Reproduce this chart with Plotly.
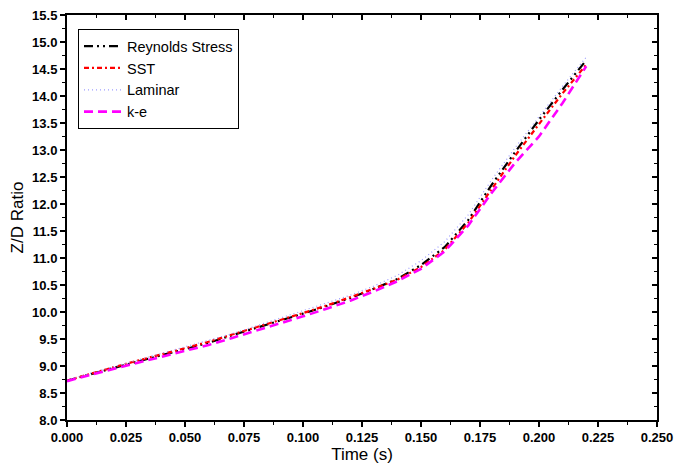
import plotly.graph_objects as go

time_s = [0.0, 0.01, 0.02, 0.03, 0.04, 0.05, 0.06, 0.07, 0.08, 0.09, 0.10,
          0.11, 0.12, 0.13, 0.14, 0.15, 0.16, 0.17, 0.18, 0.19, 0.20, 0.21, 0.22]

reynolds_stress = [8.73, 8.85, 8.97, 9.09, 9.20, 9.31, 9.43, 9.57, 9.70, 9.84, 9.97,
                   10.11, 10.26, 10.43, 10.61, 10.87, 11.20, 11.70, 12.36, 12.97, 13.56, 14.12, 14.66]
sst = [8.73, 8.86, 8.98, 9.10, 9.21, 9.33, 9.45, 9.58, 9.71, 9.85, 9.98,
       10.12, 10.27, 10.43, 10.60, 10.83, 11.15, 11.65, 12.28, 12.90, 13.48, 14.05, 14.58]
laminar = [8.74, 8.87, 8.99, 9.11, 9.23, 9.35, 9.47, 9.60, 9.74, 9.88, 10.02,
           10.16, 10.31, 10.48, 10.68, 10.95, 11.30, 11.80, 12.45, 13.05, 13.62, 14.18, 14.72]
k_e = [8.72, 8.84, 8.95, 9.06, 9.17, 9.28, 9.39, 9.52, 9.65, 9.79, 9.92,
       10.06, 10.21, 10.38, 10.57, 10.80, 11.12, 11.60, 12.21, 12.77, 13.25, 13.87, 14.55]

series_names = ["Reynolds Stress", "SST", "Laminar", "k-e"]

x_ticks = [0.0, 0.025, 0.05, 0.075, 0.1, 0.125, 0.15, 0.175, 0.2, 0.225, 0.25]
x_tick_labels = ["0.000", "0.025", "0.050", "0.075", "0.100", "0.125",
                 "0.150", "0.175", "0.200", "0.225", "0.250"]
y_ticks = [8.0, 8.5, 9.0, 9.5, 10.0, 10.5, 11.0, 11.5, 12.0, 12.5,
           13.0, 13.5, 14.0, 14.5, 15.0, 15.5]
y_tick_labels = ["%.1f" % v for v in y_ticks]

FONT = "Arial, Liberation Sans, sans-serif"

fig = go.Figure()
fig.add_trace(go.Scatter(x=time_s, y=reynolds_stress, name=series_names[0], mode="lines",
                         line=dict(color="black", width=2.2, dash="9px,4px,2px,4px,2px,4px")))
fig.add_trace(go.Scatter(x=time_s, y=sst, name=series_names[1], mode="lines",
                         line=dict(color="#ff0000", width=2.2, dash="5px,3px,2px,3px")))
fig.add_trace(go.Scatter(x=time_s, y=laminar, name=series_names[2], mode="lines",
                         line=dict(color="#9a9aff", width=1.2, dash="1px,3px")))
fig.add_trace(go.Scatter(x=time_s, y=k_e, name=series_names[3], mode="lines",
                         line=dict(color="#ff00ff", width=2.6, dash="9px,5px")))
# invisible trace for the mirrored (top/right) axes
fig.add_trace(go.Scatter(x=[0, 0.25], y=[8, 15.5], xaxis="x2", yaxis="y2", mode="lines",
                         line=dict(width=0), showlegend=False, hoverinfo="skip"))

tickfont = dict(family=FONT, size=13, color="black")

# the page body has an 8px margin, so the figure is sized/offset to compensate
fig.update_layout(
    width=683, height=458,
    margin=dict(l=59, r=34, t=7, b=46, autoexpand=False),
    paper_bgcolor="white", plot_bgcolor="white",
    showlegend=True,
    legend=dict(x=0.0186, y=0.965, xanchor="left", yanchor="top",
                bordercolor="black", borderwidth=1, bgcolor="white",
                font=dict(family=FONT, size=14.5, color="black"),
                tracegroupgap=0, itemwidth=38),
    xaxis=dict(range=[0, 0.25], tickvals=x_ticks, automargin=False, ticklabeloverflow="allow",
               ticktext=["<b>%s</b>" % t for t in x_tick_labels],
               showgrid=False, zeroline=False,
               showline=True, linecolor="black", linewidth=1.5,
               ticks="outside", ticklen=5, tickwidth=1.5, tickcolor="black",
               minor=dict(ticks="outside", ticklen=3, dtick=0.0125, tick0=0, tickcolor="black", tickwidth=1.2),
               tickfont=tickfont,
               title=dict(text="Time (s)", font=dict(family=FONT, size=17, color="black"), standoff=0)),
    yaxis=dict(range=[8, 15.5], tickvals=y_ticks, automargin=False, ticklabeloverflow="allow",
               ticktext=["<b>%s</b>" % t for t in y_tick_labels],
               showgrid=False, zeroline=False,
               showline=True, linecolor="black", linewidth=2,
               ticks="outside", ticklen=5, tickwidth=1.5, tickcolor="black",
               minor=dict(ticks="outside", ticklen=3, dtick=0.25, tick0=8, tickcolor="black", tickwidth=1.2),
               tickfont=tickfont,
               title=dict(text="Z/D Ratio", font=dict(family=FONT, size=17, color="black"), standoff=7)),
    xaxis2=dict(range=[0, 0.25], dtick=0.025, tick0=0, overlaying="x", side="top", automargin=False,
                showgrid=False, zeroline=False, showticklabels=False,
                showline=True, linecolor="black", linewidth=1.5,
                ticks="inside", ticklen=5, tickwidth=1.5, tickcolor="black",
                minor=dict(ticks="inside", ticklen=3, dtick=0.0125, tickcolor="black", tickwidth=1.2)),
    yaxis2=dict(range=[8, 15.5], dtick=0.5, tick0=8, overlaying="y", side="right", automargin=False,
                showgrid=False, zeroline=False, showticklabels=False,
                showline=True, linecolor="black", linewidth=2,
                ticks="inside", ticklen=5, tickwidth=1.5, tickcolor="black",
                minor=dict(ticks="inside", ticklen=3, dtick=0.25, tickcolor="black", tickwidth=1.2)),
)

fig.write_html("out.html")
